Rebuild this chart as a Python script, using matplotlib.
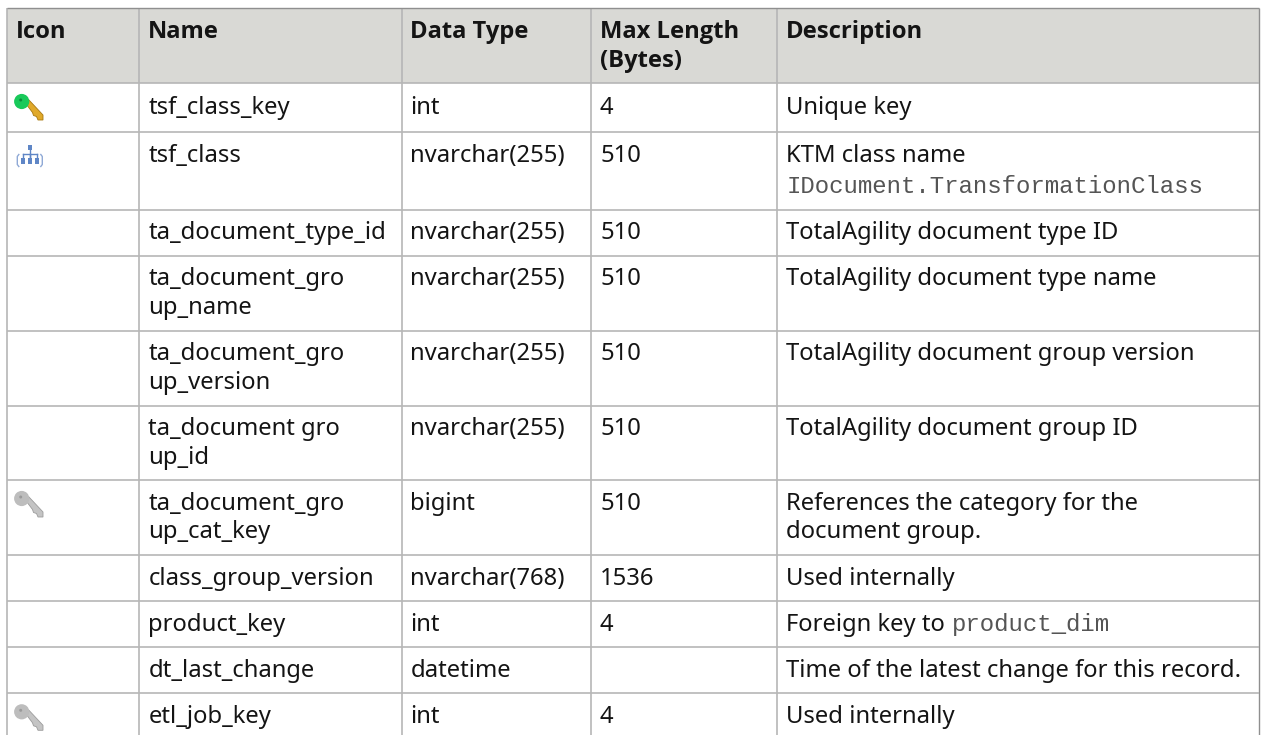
import matplotlib
matplotlib.use("Agg")
import matplotlib.pyplot as plt
from matplotlib.patches import Rectangle, Circle, Polygon

W, H = 1261, 735
headers = ["Icon", "Name", "Data Type", "Max Length\n(Bytes)", "Description"]
names = ["tsf_class_key", "tsf_class", "ta_document_type_id", "ta_document_gro\nup_name",
         "ta_document_gro\nup_version", "ta_document gro\nup_id", "ta_document_gro\nup_cat_key",
         "class_group_version", "product_key", "dt_last_change", "etl_job_key"]
types = ["int", "nvarchar(255)", "nvarchar(255)", "nvarchar(255)", "nvarchar(255)", "nvarchar(255)",
         "bigint", "nvarchar(768)", "int", "datetime", "int"]
lengths = ["4", "510", "510", "510", "510", "510", "510", "1536", "4", "", "4"]
descs = ["Unique key", "KTM class name", "TotalAgility document type ID", "TotalAgility document type name",
         "TotalAgility document group version", "TotalAgility document group ID",
         "References the category for the\ndocument group.", "Used internally", "Foreign key to",
         "Time of the latest change for this record.", "Used internally"]
code_notes = {1: "IDocument.TransformationClass"}
code_inline = {8: "product_dim"}
icons = ["green", "tree", "", "", "", "", "grey", "", "", "", "grey"]

col_x = [7, 139.3, 401.5, 591, 776.8, 1259.3]
row_y = [8, 83, 132, 209.5, 255.5, 330.5, 405.5, 480, 555, 601, 647.3, 693.3, 735]
GRID = "#b6b6b6"
EDGE = "#8f8f8f"
HEAD = "#d9d9d5"
INK = "#141414"
CODE = "#555555"
FS = 17.15
MONO_FS = 17.25
SANS = "Noto Sans"
BOLD = "Open Sans"
MONO = "Liberation Mono"
PAD = 9.0
BASE = 29.7
LEAD = 28.8

fig = plt.figure(figsize=(W / 100, H / 100), dpi=100, facecolor="white")
ax = fig.add_axes([0, 0, 1, 1])
ax.set_xlim(0, W)
ax.set_ylim(H, 0)
ax.axis("off")

ax.add_patch(Rectangle((col_x[0], row_y[0]), col_x[-1] - col_x[0], row_y[1] - row_y[0],
                       fc=HEAD, ec="none", zorder=1))
for x in col_x[:-1]:
    ax.plot([x, x], [row_y[0], row_y[-1]], color=GRID, lw=1.2, solid_capstyle="butt", zorder=2)
ax.plot([col_x[-1]] * 2, [row_y[0], row_y[-1]], color=EDGE, lw=1.0, solid_capstyle="butt", zorder=2)
for y in row_y[1:-1]:
    ax.plot([col_x[0], col_x[-1]], [y, y], color=GRID, lw=1.2, solid_capstyle="butt", zorder=2)
ax.plot([col_x[0], col_x[-1]], [row_y[0]] * 2, color=EDGE, lw=1.0, solid_capstyle="butt", zorder=2)


def cell(col, top, text, weight="normal"):
    fam = BOLD if weight == "bold" else SANS
    for i, line in enumerate(text.split("\n")):
        ax.text(col_x[col] + PAD, top + BASE + i * LEAD, line, family=fam, fontsize=FS,
                fontweight=weight, color=INK, va="baseline", ha="left", zorder=4)


def key(top, head, hole, shaft, dark):
    cx, cy = 21.7, top + 18.5
    ax.add_patch(Polygon([(25, cy + 1), (28.5, cy - 2), (43, cy + 13.5), (43, cy + 18.5), (38, cy + 18.5),
                          (36.5, cy + 15), (33.5, cy + 14), (32.5, cy + 11)],
                         closed=True, fc=shaft, ec=dark, lw=0.6, zorder=3))
    ax.add_patch(Circle((cx, cy), 7.6, fc=head, ec="none", zorder=4))
    ax.add_patch(Circle((cx - 1, cy - 1.5), 1.5, fc=hole, ec="none", zorder=5))


def tree(top):
    c = "#5f86c6"
    y0 = top + 12.5
    box = dict(fc=c, ec="none", zorder=4)
    ax.add_patch(Rectangle((27.5, y0), 4.5, 5, **box))
    ax.plot([29.7, 29.7], [y0 + 4, y0 + 14], color=c, lw=1.0, zorder=3)
    ax.plot([22.5, 37], [y0 + 9, y0 + 9], color=c, lw=1.0, zorder=3)
    for x in (22.5, 29.7, 37):
        ax.plot([x, x], [y0 + 9, y0 + 13], color=c, lw=1.0, zorder=3)
        ax.add_patch(Rectangle((x - 2, y0 + 13), 4, 6, **box))
    for x, d in ((17.3, 1.5), (42.3, -1.5)):
        ax.plot([x + d, x, x, x + d], [y0 + 10, y0 + 12, y0 + 20, y0 + 22], color="#8fa9d6", lw=1.0, zorder=3)


for c, h in enumerate(headers):
    cell(c, row_y[0], h, "bold")

for r in range(len(names)):
    top = row_y[r + 1]
    # the first row sits slightly lower because of the taller key image
    text_top = top + (1.3 if r == 0 else 0)
    cell(1, text_top, names[r])
    cell(2, text_top, types[r])
    if lengths[r]:
        cell(3, text_top, lengths[r])
    cell(4, text_top, descs[r])
    if r in code_notes:
        ax.text(col_x[4] + PAD + 1, top + BASE + 31, code_notes[r], family=MONO, fontsize=MONO_FS,
                color=CODE, va="baseline", ha="left", zorder=4)
    if r in code_inline:
        ax.text(col_x[4] + 175, top + BASE, code_inline[r], family=MONO, fontsize=MONO_FS,
                color=CODE, va="baseline", ha="left", zorder=4)
    if icons[r] == "green":
        key(top, "#19c95a", "#0c8a3c", "#e0a92a", "#a9780f")
    elif icons[r] == "grey":
        key(top, "#bdbdbd", "#9a9a9a", "#c4c4c4", "#9c9c9c")
    elif icons[r] == "tree":
        tree(top)

fig.savefig("out.png", dpi=100, facecolor="white")
